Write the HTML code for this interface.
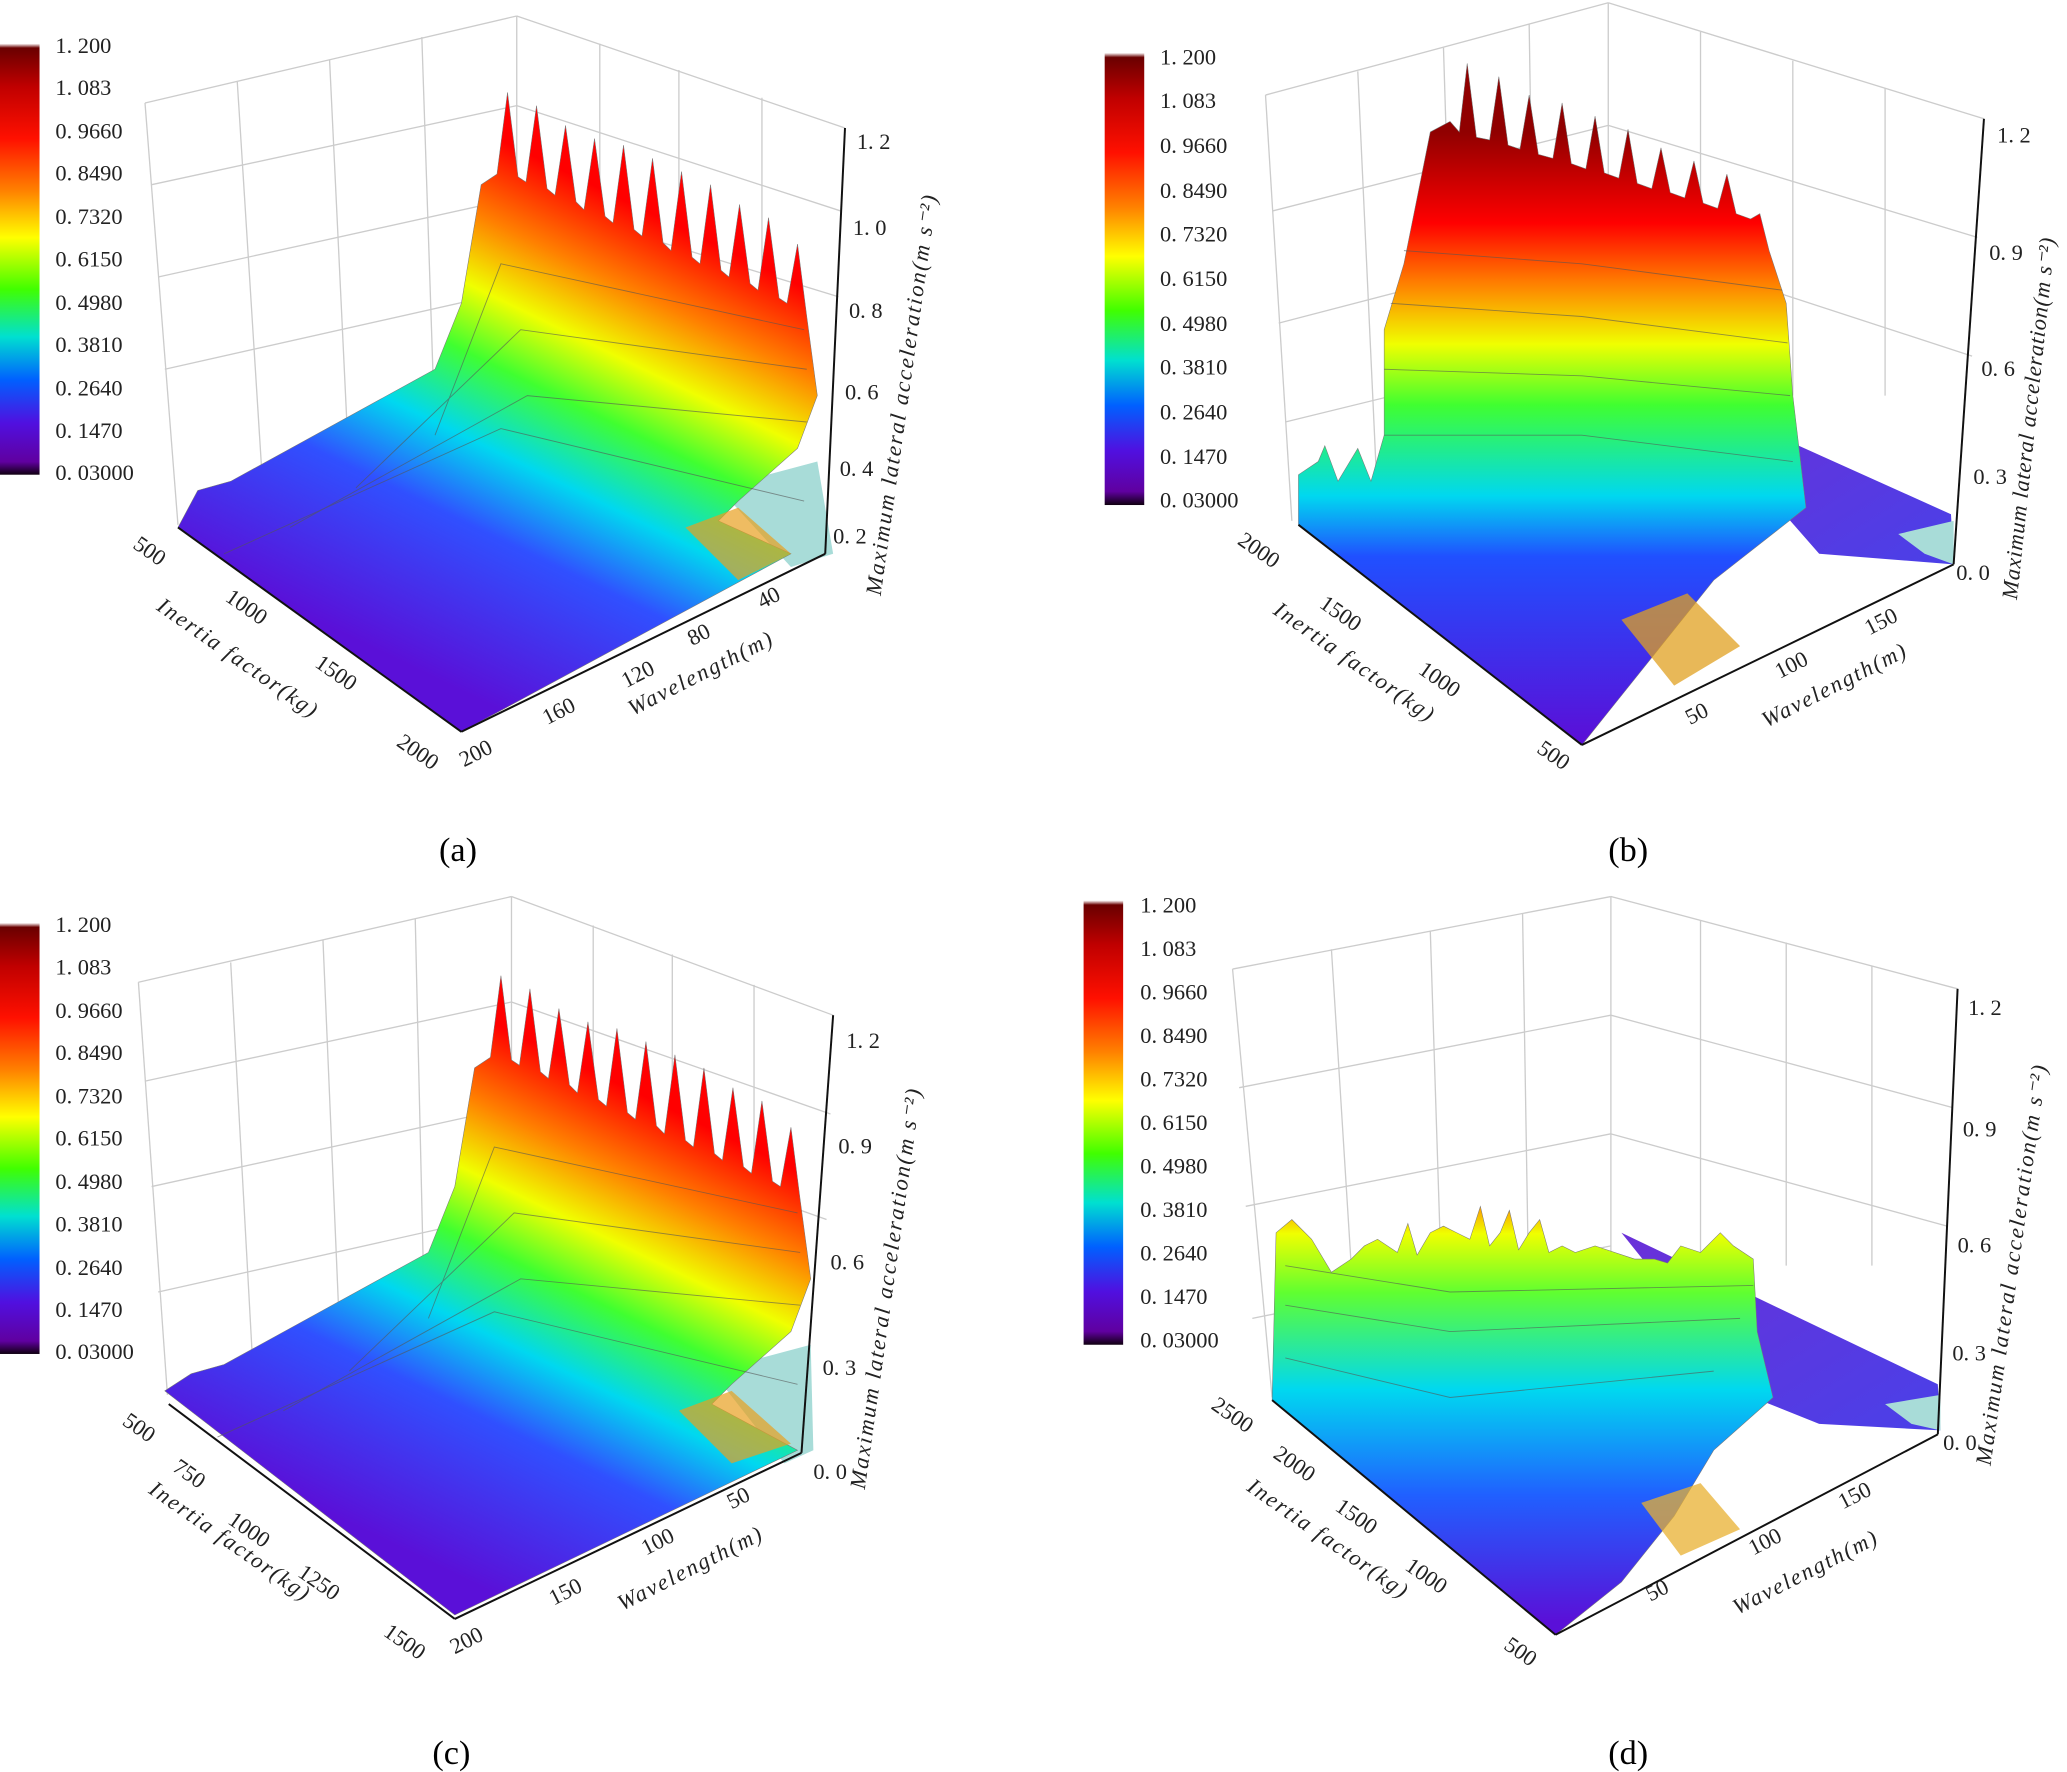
<!DOCTYPE html>
<html><head><meta charset="utf-8"><style>
html,body{margin:0;padding:0;background:#fff;}
svg{display:block;}
text{font-family:"Liberation Serif","Noto Serif CJK SC",serif;fill:#222;}
.cap{font-family:"Liberation Serif",serif;font-size:26px;fill:#000;}
.t{font-size:17px;}
.ti{font-size:17px;font-style:italic;letter-spacing:1.5px;}
.ax{stroke:#111;stroke-width:1.5;fill:none;}
.gr{stroke:#ccc;stroke-width:1;fill:none;}
</style></head><body>
<svg width="2067" height="1772" viewBox="0 0 1568 1344" xmlns="http://www.w3.org/2000/svg">
<defs>
<linearGradient id="cb" x1="0" y1="0" x2="0" y2="1">
<stop offset="0" stop-color="#fff"/><stop offset="0.01" stop-color="#6a0000"/><stop offset="0.1" stop-color="#c00000"/><stop offset="0.22" stop-color="#ff1000"/><stop offset="0.34" stop-color="#ff8000"/><stop offset="0.45" stop-color="#ffff00"/><stop offset="0.57" stop-color="#40ff00"/><stop offset="0.68" stop-color="#00e0d0"/><stop offset="0.78" stop-color="#0060ff"/><stop offset="0.88" stop-color="#5010e0"/><stop offset="0.97" stop-color="#6000a0"/><stop offset="1" stop-color="#100010"/>
</linearGradient>
<linearGradient id="ga" gradientUnits="userSpaceOnUse" x1="300" y1="500" x2="470" y2="150">
<stop offset="0" stop-color="#5a10d8"/><stop offset="0.3" stop-color="#3050ff"/><stop offset="0.45" stop-color="#00d8f0"/><stop offset="0.6" stop-color="#40ff30"/><stop offset="0.72" stop-color="#f0ff00"/><stop offset="0.85" stop-color="#ff8000"/><stop offset="1" stop-color="#ff0000"/>
</linearGradient>
<linearGradient id="gb" gradientUnits="userSpaceOnUse" x1="0" y1="560" x2="0" y2="100">
<stop offset="0" stop-color="#5a10d8"/><stop offset="0.3" stop-color="#2050ff"/><stop offset="0.4" stop-color="#00d8f0"/><stop offset="0.55" stop-color="#40ff30"/><stop offset="0.65" stop-color="#f0ff00"/><stop offset="0.75" stop-color="#ff8000"/><stop offset="0.85" stop-color="#ff0000"/><stop offset="1" stop-color="#900000"/>
</linearGradient>
<linearGradient id="gd" gradientUnits="userSpaceOnUse" x1="0" y1="1230" x2="0" y2="910">
<stop offset="0" stop-color="#5a10d8"/><stop offset="0.3" stop-color="#2060ff"/><stop offset="0.55" stop-color="#00d8f0"/><stop offset="0.78" stop-color="#60ff30"/><stop offset="0.92" stop-color="#f0ff00"/><stop offset="1" stop-color="#ff8000"/>
</linearGradient>
<linearGradient id="fl" x1="0" y1="0" x2="1" y2="1">
<stop offset="0" stop-color="#6a30d8"/><stop offset="1" stop-color="#4a40e8"/>
</linearGradient>
</defs>

<!-- ========== Panel A ========== -->
<g>
<line class="gr" x1="110" y1="78" x2="392" y2="12"/><line class="gr" x1="392" y1="12" x2="641" y2="97"/>
<line class="gr" x1="392" y1="12" x2="392" y2="300"/><line class="gr" x1="110" y1="78" x2="135" y2="398"/>
<line class="gr" x1="180" y1="62" x2="200" y2="380"/><line class="gr" x1="250" y1="45" x2="265" y2="360"/><line class="gr" x1="320" y1="28" x2="330" y2="330"/>
<line class="gr" x1="455" y1="33" x2="455" y2="300"/><line class="gr" x1="515" y1="53" x2="515" y2="300"/><line class="gr" x1="578" y1="74" x2="578" y2="300"/>
<line class="gr" x1="115" y1="140" x2="392" y2="80"/><line class="gr" x1="120" y1="210" x2="392" y2="150"/><line class="gr" x1="125" y1="280" x2="392" y2="220"/>
<line class="gr" x1="392" y1="80" x2="638" y2="160"/><line class="gr" x1="392" y1="150" x2="636" y2="225"/>
<polygon points="545,370 620,350 632,420 600,430" fill="#a8dcd8"/>
<polygon fill="url(#ga)" stroke="#777" stroke-width="0.4" points="135,400 150,372 175,365 330,280 350,230 365,140 377,132 385,70 393,134 399,138 407,80 415,143 421,148 429,95 437,153 443,159 451,105 459,164 465,169 473,110 481,174 487,179 495,120 503,184 509,190 517,130 525,195 531,200 539,140 547,205 553,210 561,155 569,215 575,220 583,165 591,226 597,230 605,185 612,240 620,300 605,340 560,380 545,395 600,420 350,555"/>
<polygon points="520,400 560,385 600,420 560,440" fill="#e8a020" opacity="0.7"/>
<g stroke="#555" stroke-width="0.7" fill="none" opacity="0.6">
<polyline points="170,420 380,325 610,380"/><polyline points="220,400 400,300 612,320"/><polyline points="270,370 395,250 612,280"/><polyline points="330,330 380,200 610,250"/>
</g>
<rect x="0" y="33" width="30" height="327" fill="url(#cb)"/>
<g class="t"><text x="42" y="40">1. 200</text><text x="42" y="72">1. 083</text><text x="42" y="105">0. 9660</text><text x="42" y="137">0. 8490</text><text x="42" y="170">0. 7320</text><text x="42" y="202">0. 6150</text><text x="42" y="235">0. 4980</text><text x="42" y="267">0. 3810</text><text x="42" y="300">0. 2640</text><text x="42" y="332">0. 1470</text><text x="42" y="364">0. 03000</text></g>
<line class="ax" x1="641" y1="97" x2="626" y2="420"/>
<g class="t"><text x="650" y="113">1. 2</text><text x="647" y="178">1. 0</text><text x="644" y="241">0. 8</text><text x="641" y="303">0. 6</text><text x="637" y="361">0. 4</text><text x="632" y="412">0. 2</text></g>
<text class="ti" transform="translate(668,452) rotate(-82)">Maximum lateral acceleration(m s⁻²)</text>
<line class="ax" x1="135" y1="400" x2="350" y2="555"/><line class="ax" x1="350" y1="555" x2="626" y2="420"/>
<g class="t"><text transform="translate(100,415) rotate(35)">500</text><text transform="translate(170,455) rotate(35)">1000</text><text transform="translate(238,505) rotate(35)">1500</text><text transform="translate(300,565) rotate(35)">2000</text>
<text class="ti" transform="translate(118,462) rotate(35)">Inertia factor(kg)</text>
<text transform="translate(352,582) rotate(-27)">200</text><text transform="translate(415,550) rotate(-27)">160</text><text transform="translate(475,522) rotate(-27)">120</text><text transform="translate(525,490) rotate(-27)">80</text><text transform="translate(578,462) rotate(-27)">40</text>
<text class="ti" transform="translate(480,543) rotate(-27)">Wavelength(m)</text></g>
<text class="cap" x="333" y="653">(a)</text>
</g>

<!-- ========== Panel C ========== -->
<g>
<line class="gr" x1="105" y1="745" x2="388" y2="680"/><line class="gr" x1="388" y1="680" x2="632" y2="770"/>
<line class="gr" x1="388" y1="680" x2="388" y2="970"/><line class="gr" x1="105" y1="745" x2="127" y2="1058"/>
<line class="gr" x1="175" y1="730" x2="192" y2="1040"/><line class="gr" x1="245" y1="713" x2="258" y2="1020"/><line class="gr" x1="315" y1="697" x2="322" y2="1000"/>
<line class="gr" x1="450" y1="702" x2="450" y2="960"/><line class="gr" x1="510" y1="724" x2="510" y2="960"/><line class="gr" x1="572" y1="747" x2="572" y2="960"/>
<line class="gr" x1="110" y1="820" x2="388" y2="760"/><line class="gr" x1="115" y1="900" x2="388" y2="840"/><line class="gr" x1="120" y1="980" x2="388" y2="920"/>
<line class="gr" x1="388" y1="760" x2="630" y2="845"/><line class="gr" x1="388" y1="840" x2="627" y2="925"/>
<g transform="translate(-5,670)">
<polygon points="545,370 620,350 622,430 600,440" fill="#a8dcd8"/>
<polygon fill="url(#ga)" stroke="#777" stroke-width="0.4" points="130,385 150,372 175,365 330,280 350,230 365,140 377,132 385,70 393,134 399,138 407,80 415,143 421,148 429,95 437,153 443,159 451,105 459,164 465,169 473,110 481,174 487,179 495,120 503,184 509,190 517,130 525,195 531,200 539,140 547,205 553,210 561,155 569,215 575,220 583,165 591,226 597,230 605,185 612,240 620,300 605,340 560,380 545,395 610,430 350,555"/>
<polygon points="520,400 560,385 605,425 560,440" fill="#e8a020" opacity="0.7"/>
<g stroke="#555" stroke-width="0.7" fill="none" opacity="0.6">
<polyline points="170,420 380,325 610,380"/><polyline points="220,400 400,300 612,320"/><polyline points="270,370 395,250 612,280"/><polyline points="330,330 380,200 610,250"/>
</g></g>
<rect x="0" y="700" width="30" height="327" fill="url(#cb)"/>
<g class="t"><text x="42" y="707">1. 200</text><text x="42" y="739">1. 083</text><text x="42" y="772">0. 9660</text><text x="42" y="804">0. 8490</text><text x="42" y="837">0. 7320</text><text x="42" y="869">0. 6150</text><text x="42" y="902">0. 4980</text><text x="42" y="934">0. 3810</text><text x="42" y="967">0. 2640</text><text x="42" y="999">0. 1470</text><text x="42" y="1031">0. 03000</text></g>
<line class="ax" x1="632" y1="770" x2="608" y2="1102"/>
<g class="t"><text x="642" y="795">1. 2</text><text x="636" y="875">0. 9</text><text x="630" y="963">0. 6</text><text x="624" y="1043">0. 3</text><text x="617" y="1122">0. 0</text></g>
<text class="ti" transform="translate(656,1130) rotate(-82)">Maximum lateral acceleration(m s⁻²)</text>
<line class="ax" x1="128" y1="1065" x2="345" y2="1228"/><line class="ax" x1="345" y1="1228" x2="608" y2="1102"/>
<g class="t"><text transform="translate(92,1080) rotate(35)">500</text><text transform="translate(130,1115) rotate(35)">750</text><text transform="translate(172,1155) rotate(35)">1000</text><text transform="translate(225,1195) rotate(35)">1250</text><text transform="translate(290,1240) rotate(35)">1500</text>
<text class="ti" transform="translate(112,1132) rotate(35)">Inertia factor(kg)</text>
<text transform="translate(345,1255) rotate(-27)">200</text><text transform="translate(420,1218) rotate(-27)">150</text><text transform="translate(490,1180) rotate(-27)">100</text><text transform="translate(555,1145) rotate(-27)">50</text>
<text class="ti" transform="translate(472,1222) rotate(-27)">Wavelength(m)</text></g>
<text class="cap" x="328" y="1338">(c)</text>
</g>

<!-- ========== Panel B ========== -->
<g>
<line class="gr" x1="960" y1="72" x2="1220" y2="2"/><line class="gr" x1="1220" y1="2" x2="1505" y2="90"/>
<line class="gr" x1="1220" y1="2" x2="1220" y2="300"/><line class="gr" x1="960" y1="72" x2="980" y2="395"/>
<line class="gr" x1="1030" y1="54" x2="1045" y2="380"/><line class="gr" x1="1095" y1="36" x2="1105" y2="360"/><line class="gr" x1="1160" y1="18" x2="1165" y2="340"/>
<line class="gr" x1="1290" y1="24" x2="1290" y2="300"/><line class="gr" x1="1360" y1="46" x2="1360" y2="300"/><line class="gr" x1="1430" y1="67" x2="1430" y2="300"/>
<line class="gr" x1="965" y1="160" x2="1220" y2="95"/><line class="gr" x1="970" y1="245" x2="1220" y2="180"/><line class="gr" x1="975" y1="320" x2="1220" y2="260"/>
<line class="gr" x1="1220" y1="95" x2="1500" y2="180"/><line class="gr" x1="1220" y1="180" x2="1496" y2="270"/>
<polygon points="1280,300 1480,390 1482,428 1380,420 1345,380" fill="url(#fl)"/>
<polygon points="1440,405 1482,395 1482,428 1460,420" fill="#a8dcd8"/>
<polygon fill="url(#gb)" stroke="#777" stroke-width="0.4" points="985,398 985,360 1000,350 1005,338 1015,365 1030,340 1040,365 1050,330 1050,250 1065,200 1085,100 1100,92 1107,100 1113,48 1120,104 1130,106 1137,58 1144,110 1153,113 1160,72 1167,117 1178,120 1185,78 1192,124 1203,128 1210,88 1217,131 1228,135 1235,98 1242,139 1253,143 1260,112 1267,146 1278,150 1285,122 1292,154 1303,158 1310,132 1317,162 1328,166 1335,162 1342,190 1355,230 1360,300 1370,385 1300,440 1260,490 1220,540 1200,565"/>
<polygon points="1230,470 1280,450 1320,490 1270,520" fill="#e0a020" opacity="0.75"/>
<g stroke="#555" stroke-width="0.7" fill="none" opacity="0.6">
<polyline points="1050,330 1200,330 1360,350"/><polyline points="1050,280 1200,285 1358,300"/><polyline points="1055,230 1200,240 1356,260"/><polyline points="1065,190 1200,200 1352,220"/>
</g>
<rect x="838" y="40" width="30" height="343" fill="url(#cb)"/>
<g class="t"><text x="880" y="49">1. 200</text><text x="880" y="82">1. 083</text><text x="880" y="116">0. 9660</text><text x="880" y="150">0. 8490</text><text x="880" y="183">0. 7320</text><text x="880" y="217">0. 6150</text><text x="880" y="251">0. 4980</text><text x="880" y="284">0. 3810</text><text x="880" y="318">0. 2640</text><text x="880" y="352">0. 1470</text><text x="880" y="385">0. 03000</text></g>
<line class="ax" x1="1505" y1="90" x2="1482" y2="428"/>
<g class="t"><text x="1515" y="108">1. 2</text><text x="1509" y="197">0. 9</text><text x="1503" y="285">0. 6</text><text x="1497" y="367">0. 3</text><text x="1484" y="440">0. 0</text></g>
<text class="ti" style="letter-spacing:0.6px" transform="translate(1530,455) rotate(-84)">Maximum lateral acceleration(m s⁻²)</text>
<line class="ax" x1="985" y1="398" x2="1200" y2="565"/><line class="ax" x1="1200" y1="565" x2="1482" y2="428"/>
<g class="t"><text transform="translate(938,412) rotate(35)">2000</text><text transform="translate(1000,460) rotate(35)">1500</text><text transform="translate(1075,510) rotate(35)">1000</text><text transform="translate(1165,570) rotate(35)">500</text>
<text class="ti" transform="translate(965,465) rotate(35)">Inertia factor(kg)</text>
<text transform="translate(1282,550) rotate(-27)">50</text><text transform="translate(1350,515) rotate(-27)">100</text><text transform="translate(1418,482) rotate(-27)">150</text>
<text class="ti" transform="translate(1340,552) rotate(-27)">Wavelength(m)</text></g>
<text class="cap" x="1220" y="653">(b)</text>
</g>

<!-- ========== Panel D ========== -->
<g>
<line class="gr" x1="935" y1="735" x2="1222" y2="680"/><line class="gr" x1="1222" y1="680" x2="1485" y2="750"/>
<line class="gr" x1="1222" y1="680" x2="1222" y2="960"/><line class="gr" x1="935" y1="735" x2="965" y2="1060"/>
<line class="gr" x1="1010" y1="720" x2="1030" y2="1040"/><line class="gr" x1="1085" y1="706" x2="1095" y2="1020"/><line class="gr" x1="1155" y1="693" x2="1160" y2="1000"/>
<line class="gr" x1="1290" y1="698" x2="1290" y2="960"/><line class="gr" x1="1355" y1="715" x2="1355" y2="960"/><line class="gr" x1="1420" y1="733" x2="1420" y2="960"/>
<line class="gr" x1="940" y1="825" x2="1222" y2="770"/><line class="gr" x1="945" y1="915" x2="1222" y2="860"/><line class="gr" x1="950" y1="1000" x2="1222" y2="945"/>
<line class="gr" x1="1222" y1="770" x2="1481" y2="840"/><line class="gr" x1="1222" y1="860" x2="1477" y2="930"/>
<polygon points="1230,935 1470,1050 1472,1085 1380,1080 1330,1060" fill="url(#fl)"/>
<polygon points="1430,1065 1472,1058 1472,1085 1450,1080" fill="#a8dcd8"/>
<polygon fill="url(#gd)" stroke="#777" stroke-width="0.4" points="965,1062 968,935 980,925 995,940 1010,965 1025,955 1035,945 1045,940 1060,950 1068,928 1075,952 1085,935 1095,930 1105,935 1115,940 1123,915 1130,945 1138,935 1145,918 1152,948 1160,935 1168,925 1175,950 1185,945 1195,950 1210,945 1225,950 1240,955 1255,955 1265,958 1275,945 1290,950 1305,935 1315,945 1330,955 1333,1010 1345,1060 1300,1100 1270,1150 1230,1200 1180,1240"/>
<polygon points="1245,1140 1290,1125 1320,1160 1275,1180" fill="#e8b030" opacity="0.75"/>
<g stroke="#555" stroke-width="0.7" fill="none" opacity="0.6">
<polyline points="975,1030 1100,1060 1300,1040"/><polyline points="975,990 1100,1010 1320,1000"/><polyline points="975,960 1100,980 1330,975"/>
</g>
<rect x="822" y="683" width="30" height="337" fill="url(#cb)"/>
<g class="t"><text x="865" y="692">1. 200</text><text x="865" y="725">1. 083</text><text x="865" y="758">0. 9660</text><text x="865" y="791">0. 8490</text><text x="865" y="824">0. 7320</text><text x="865" y="857">0. 6150</text><text x="865" y="890">0. 4980</text><text x="865" y="923">0. 3810</text><text x="865" y="956">0. 2640</text><text x="865" y="989">0. 1470</text><text x="865" y="1022">0. 03000</text></g>
<line class="ax" x1="1485" y1="750" x2="1470" y2="1088"/>
<g class="t"><text x="1493" y="770">1. 2</text><text x="1489" y="862">0. 9</text><text x="1485" y="950">0. 6</text><text x="1481" y="1032">0. 3</text><text x="1474" y="1100">0. 0</text></g>
<text class="ti" transform="translate(1510,1112) rotate(-82)">Maximum lateral acceleration(m s⁻²)</text>
<line class="ax" x1="965" y1="1062" x2="1180" y2="1240"/><line class="ax" x1="1180" y1="1240" x2="1470" y2="1088"/>
<g class="t"><text transform="translate(918,1068) rotate(35)">2500</text><text transform="translate(965,1105) rotate(35)">2000</text><text transform="translate(1012,1145) rotate(35)">1500</text><text transform="translate(1065,1190) rotate(35)">1000</text><text transform="translate(1140,1250) rotate(35)">500</text>
<text class="ti" transform="translate(945,1130) rotate(35)">Inertia factor(kg)</text>
<text transform="translate(1252,1215) rotate(-27)">50</text><text transform="translate(1330,1180) rotate(-27)">100</text><text transform="translate(1398,1145) rotate(-27)">150</text>
<text class="ti" transform="translate(1318,1225) rotate(-27)">Wavelength(m)</text></g>
<text class="cap" x="1220" y="1338">(d)</text>
</g>
</svg>
</body></html>
